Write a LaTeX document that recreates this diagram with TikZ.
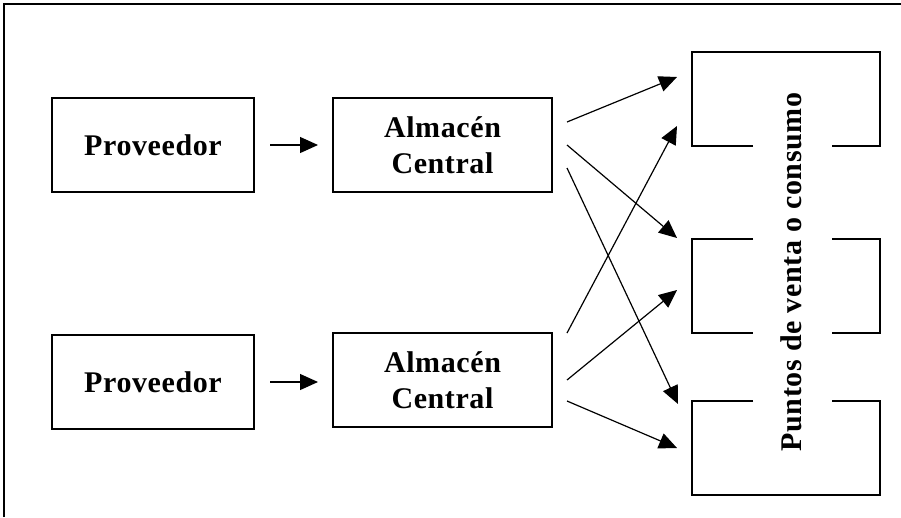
\documentclass[tikz,border=0pt]{standalone}
\usepackage{fontspec}
\setmainfont{Liberation Serif}[LetterSpace=2]
\usetikzlibrary{arrows.meta}
\begin{document}
\begin{tikzpicture}[x=1pt,y=-1pt,
  box/.style={draw, line width=1.4pt, minimum width=202pt, minimum height=94pt,
    inner sep=0pt, align=center, font=\fontsize{30}{36}\selectfont\bfseries},
  flow/.style={line width=1.2pt, -{Triangle[length=18pt,width=16pt]}},
  outlet/.style={line width=1.4pt},
  label/.style={font=\fontsize{30}{36}\selectfont\bfseries, inner sep=0pt}]
\useasboundingbox (0,0) rectangle (901,517);

% page frame
\draw[line width=2pt] (4,517) -- (4,4) -- (901,4);

% suppliers and central warehouses
\node[box] (prov1) at (153,145) {Proveedor};
\node[box] (prov2) at (153,382) {Proveedor};
\node[box, minimum width=219pt] (alm1) at (442.5,145) {Almacén\\Central};
\node[box, minimum width=219pt] (alm2) at (442.5,380) {Almacén\\Central};

\coordinate (p1s) at (270,145); \coordinate (p1e) at (318,145);
\coordinate (p2s) at (270,382); \coordinate (p2e) at (318,382);
\draw[flow] (p1s) -- (p1e);
\draw[flow] (p2s) -- (p2e);

% points of sale (open boxes)
\draw[outlet] (753,146) -- (692,146) -- (692,52) -- (880,52) -- (880,146) -- (832,146);
\draw[outlet] (753,239) -- (692,239) -- (692,333) -- (753,333);
\draw[outlet] (832,239) -- (880,239) -- (880,333) -- (832,333);
\draw[outlet] (753,401) -- (692,401) -- (692,495) -- (880,495) -- (880,401) -- (832,401);
\node[label, rotate=90] (pv) at (791,272) {Puntos de venta o consumo};

% distribution flows
\coordinate (a1s) at (567,122); \coordinate (a1e) at (677,77);
\coordinate (a2s) at (567,145); \coordinate (a2e) at (677,238);
\coordinate (a3s) at (567,168); \coordinate (a3e) at (678,404);
\coordinate (b1s) at (567,333); \coordinate (b1e) at (677,126);
\coordinate (b2s) at (567,380); \coordinate (b2e) at (677,290);
\coordinate (b3s) at (567,401); \coordinate (b3e) at (677,448);
\foreach \s/\e in {a1s/a1e,a2s/a2e,a3s/a3e,b1s/b1e,b2s/b2e,b3s/b3e}
  \draw[flow] (\s) -- (\e);
\end{tikzpicture}
\end{document}
